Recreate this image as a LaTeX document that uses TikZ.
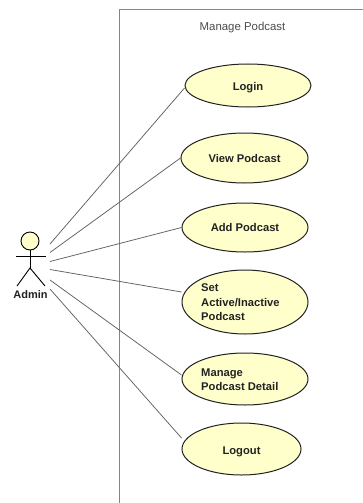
\documentclass[tikz,border=0pt]{standalone}
\usepackage{fontspec}
\setmainfont{Liberation Sans}
\usetikzlibrary{shapes.geometric}
\definecolor{ucfill}{HTML}{FFFFCC}
\definecolor{inkc}{HTML}{222222}
\tikzset{
  x=1pt,y=-1pt,
  usecase/.style={draw=inkc,line width=1pt,fill=ucfill,ellipse,inner sep=0pt},
  uctext/.style={font=\fontsize{11.2}{14.6}\selectfont\bfseries,text=inkc,align=left,inner sep=0pt},
  assoc/.style={draw=black!62,line width=0.75pt},
  frameline/.style={draw=black!48,line width=0.9pt},
  actorline/.style={draw=black,line width=0.9pt},
}
\begin{document}
\begin{tikzpicture}
\useasboundingbox (0,0) rectangle (363,503);
\fill[white] (0,0) rectangle (363,503);
% system boundary
\draw[frameline] (363,9) -- (119,9) -- (119,503);
\node[font=\fontsize{11.4}{13}\selectfont,text=black!70,inner sep=0pt] (title) at (242.5,28) {Manage Podcast};
% use cases
\node[usecase,minimum width=126pt,minimum height=43pt] (login) at (248,85.5) {};
\node[usecase,minimum width=127pt,minimum height=50pt] (view) at (244.5,158) {};
\node[usecase,minimum width=126pt,minimum height=49pt] (add) at (245,227.5) {};
\node[usecase,minimum width=126pt,minimum height=64pt] (set) at (245,302) {};
\node[usecase,minimum width=126pt,minimum height=52pt] (manage) at (245,379) {};
\node[usecase,minimum width=119pt,minimum height=52pt] (logout) at (241.5,449) {};
\node[uctext] (logintext) at (248,87.5) {Login};
\node[uctext] (viewtext) at (244.5,158) {View Podcast};
\node[uctext] (addtext) at (245,227.5) {Add Podcast};
\node[uctext,anchor=west] (settext) at (201,302.5) {Set\\Active/Inactive\\Podcast};
\node[uctext,anchor=west] (managetext) at (201,379.5) {Manage\\Podcast Detail};
\node[uctext] (logouttext) at (241.5,451.5) {Logout};
% actor
\node[draw=black,line width=0.9pt,fill=ucfill,circle,minimum size=18pt,inner sep=0pt] (head) at (30,241) {};
\coordinate (neck) at (30,250);
\coordinate (hip) at (30,268);
\coordinate (armL) at (16,256);
\coordinate (armR) at (46,256);
\coordinate (legL) at (17,286);
\coordinate (legR) at (45,286);
\draw[actorline] (head.south) -- (hip);
\draw[actorline] (armL) -- (armR);
\draw[actorline] (legL) -- (hip) -- (legR);
\node[font=\fontsize{11}{13}\selectfont\bfseries,text=inkc,inner sep=0pt] (admin) at (30.5,294.5) {Admin};
% association ends at the actor
\coordinate (a1) at (50,244);
\coordinate (a2) at (50,252.5);
\coordinate (a3) at (50,261.5);
\coordinate (a4) at (50,269.5);
\coordinate (a5) at (50,280);
\coordinate (a6) at (50,289);
\draw[assoc] (a1) -- (login.west |- 0,88);
\draw[assoc] (a2) -- (view.west);
\draw[assoc] (a3) -- (add.west);
\draw[assoc] (a4) -- (set.west |- 0,292);
\draw[assoc] (a5) -- (manage.west |- 0,375);
\draw[assoc] (a6) -- (logout.west |- 0,438);
\end{tikzpicture}
\end{document}
